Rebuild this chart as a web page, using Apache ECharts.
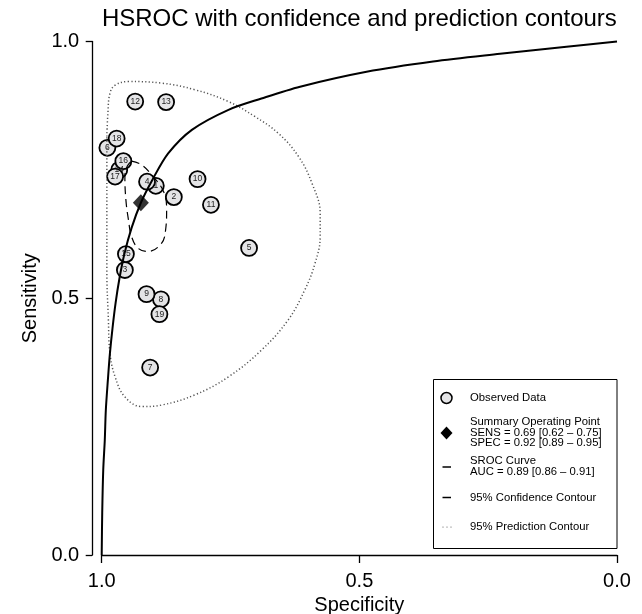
<!DOCTYPE html>
<html><head><meta charset="utf-8">
<script src="https://cdn.jsdelivr.net/npm/echarts@6/dist/echarts.min.js"></script>
<style>html,body{margin:0;padding:0;background:#fff}#c{width:642px;height:614px}</style>
</head><body><div id="c"></div>
<script>
// ---- data ----
const studyIds  = [1,2,3,4,5,6,7,8,9,10,11,12,13,14,15,16,17,18,19];
const studySpec = [0.895,0.860,0.955,0.912,0.714,0.989,0.906,0.885,0.913,0.814,0.788,0.935,0.875,0.966,0.953,0.958,0.974,0.971,0.888];
const studySens = [0.719,0.697,0.555,0.727,0.598,0.793,0.365,0.498,0.508,0.732,0.682,0.883,0.882,0.750,0.586,0.767,0.737,0.811,0.469];

const summarySpec = 0.924;
const summarySens = 0.686;

const srocSpec = [1.000,0.999,0.997,0.994,0.992,0.988,0.984,0.979,0.973,0.966,0.956,0.942,0.924,0.902,0.871,0.825,0.754,0.690,0.615,0.486,0.357,0.227,0.098,0.000];
const srocSens = [0.000,0.082,0.166,0.224,0.282,0.341,0.393,0.442,0.491,0.536,0.586,0.637,0.686,0.730,0.782,0.828,0.867,0.889,0.912,0.941,0.961,0.976,0.990,1.000];

const confSpec = [0.942,0.923,0.903,0.880,0.874,0.876,0.884,0.910,0.929,0.942,0.948,0.953,0.955,0.950,0.942];
const confSens = [0.767,0.760,0.740,0.708,0.672,0.633,0.607,0.591,0.597,0.620,0.652,0.691,0.737,0.758,0.767];

const predSpec = [0.990,0.988,0.984,0.974,0.948,0.884,0.819,0.754,0.703,0.657,0.618,0.592,0.576,0.576,0.586,0.606,0.638,0.690,0.754,0.819,0.884,0.922,0.955,0.974,0.984,0.987,0.990,0.990,0.990];
const predSens = [0.815,0.860,0.899,0.915,0.922,0.919,0.906,0.883,0.854,0.821,0.776,0.724,0.665,0.620,0.568,0.516,0.458,0.399,0.347,0.312,0.292,0.289,0.308,0.347,0.393,0.458,0.555,0.685,0.815];

const xTicks = ['1.0','0.5','0.0'];
const legendLabels = ['Observed Data',
  'Summary Operating Point\nSENS = 0.69 [0.62 \u2013 0.75]\nSPEC = 0.92 [0.89 \u2013 0.95]',
  'SROC Curve\nAUC = 0.89 [0.86 \u2013 0.91]',
  '95% Confidence Contour',
  '95% Prediction Contour'];

// ---- chart ----
const FONT = "'Liberation Sans', Arial, Helvetica, sans-serif";
const zip = (a, b) => a.map((v, i) => [v, b[i]]);
const chart = echarts.init(document.getElementById('c'), null, {renderer: 'canvas'});

const legendText = (txt, y) => ({
  type: 'text', x: 470, y: y, z: 100,
  style: {text: txt, fill: '#000', font: "11.3px " + FONT, verticalAlign: 'middle', align: 'left', lineHeight: 10.8}
});

chart.setOption({
  animation: false,
  backgroundColor: '#fff',
  textStyle: {fontFamily: FONT},
  title: {
    text: 'HSROC with confidence and prediction contours',
    left: 359.4, top: 7, textAlign: 'center', padding: 0,
    textStyle: {fontFamily: FONT, fontSize: 24, fontWeight: 'normal', color: '#000'}
  },
  grid: {left: 101.7, right: 25, top: 41.5, bottom: 59, containLabel: false, outerBoundsMode: 'none'},
  xAxis: {
    type: 'value', min: 0, max: 1, interval: 0.5, inverse: true,
    name: 'Specificity', nameLocation: 'middle', nameGap: 38,
    nameTextStyle: {fontFamily: FONT, fontSize: 20, color: '#000'},
    axisLine: {show: true, onZero: false, lineStyle: {color: '#000', width: 1.3}},
    axisTick: {show: true, length: 8, lineStyle: {color: '#000', width: 1.3}},
    axisLabel: {fontFamily: FONT, fontSize: 20, color: '#000', margin: 16,
      formatter: v => xTicks[Math.round((1 - v) * 2)]},
    splitLine: {show: false}
  },
  yAxis: {
    type: 'value', min: 0, max: 1, interval: 0.5, offset: 9.5,
    name: 'Sensitivity', nameLocation: 'middle', nameGap: 52, nameRotate: 90,
    nameTextStyle: {fontFamily: FONT, fontSize: 20, color: '#000'},
    axisLine: {show: true, onZero: false, lineStyle: {color: '#000', width: 1.3}},
    axisTick: {show: true, length: 6.5, lineStyle: {color: '#000', width: 1.3}},
    axisLabel: {fontFamily: FONT, fontSize: 20, color: '#000', margin: 13,
      formatter: v => v.toFixed(1)},
    splitLine: {show: false}
  },
  series: [
    {
      name: 'Observed Data', type: 'scatter', z: 2, clip: false,
      data: studyIds.map((id, i) => ({value: [studySpec[i], studySens[i]], name: String(id)})),
      symbol: 'circle', symbolSize: 16,
      itemStyle: {color: '#e4e4e6', borderColor: '#000', borderWidth: 1.8, opacity: 1},
      label: {show: true, position: 'inside', formatter: p => p.name, fontFamily: FONT, fontSize: 8.5, color: '#222'},
      emphasis: {disabled: true}
    },
    {
      name: 'Prediction', type: 'line', z: 3, clip: false, symbol: 'none', smooth: 0.4,
      data: zip(predSpec, predSens),
      lineStyle: {color: '#555', width: 1.5, type: [1.2, 2.3]}
    },
    {
      name: 'Confidence', type: 'line', z: 4, clip: false, symbol: 'none', smooth: 0.4,
      data: zip(confSpec, confSens),
      lineStyle: {color: '#000', width: 1.2, type: [8, 5]}
    },
    {
      name: 'SROC', type: 'line', z: 5, clip: false, symbol: 'none', smooth: 0.3,
      data: zip(srocSpec, srocSens),
      lineStyle: {color: '#000', width: 2}
    },
    {
      name: 'Summary', type: 'scatter', z: 6, clip: false,
      data: [[summarySpec, summarySens]],
      symbol: 'diamond', symbolSize: [16, 17],
      itemStyle: {color: '#000'}
    }
  ],
  graphic: [
    {type: 'rect', shape: {x: 433.5, y: 379.5, width: 183.5, height: 169}, z: 90,
     style: {fill: '#fff', stroke: '#000', lineWidth: 1}},
    {type: 'circle', shape: {cx: 446.5, cy: 398, r: 5.5}, z: 100,
     style: {fill: '#e4e4e6', stroke: '#000', lineWidth: 1.5}},
    {type: 'polygon', shape: {points: [[446.5, 426.5], [452.5, 433], [446.5, 439.5], [440.5, 433]]}, z: 100,
     style: {fill: '#000'}},
    {type: 'line', shape: {x1: 442.5, y1: 467, x2: 451, y2: 467}, z: 100,
     style: {stroke: '#000', lineWidth: 1.5}},
    {type: 'line', shape: {x1: 442.5, y1: 497.5, x2: 451, y2: 497.5}, z: 100,
     style: {stroke: '#000', lineWidth: 1.5}},
    {type: 'circle', shape: {cx: 443, cy: 527, r: 0.6}, z: 100, style: {fill: '#555'}},
    {type: 'circle', shape: {cx: 447, cy: 527, r: 0.6}, z: 100, style: {fill: '#555'}},
    {type: 'circle', shape: {cx: 451, cy: 527, r: 0.6}, z: 100, style: {fill: '#555'}},
    legendText(legendLabels[0], 398),
    legendText(legendLabels[1], 432.5),
    legendText(legendLabels[2], 466),
    legendText(legendLabels[3], 497.5),
    legendText(legendLabels[4], 527)
  ]
});
</script>
</body></html>
